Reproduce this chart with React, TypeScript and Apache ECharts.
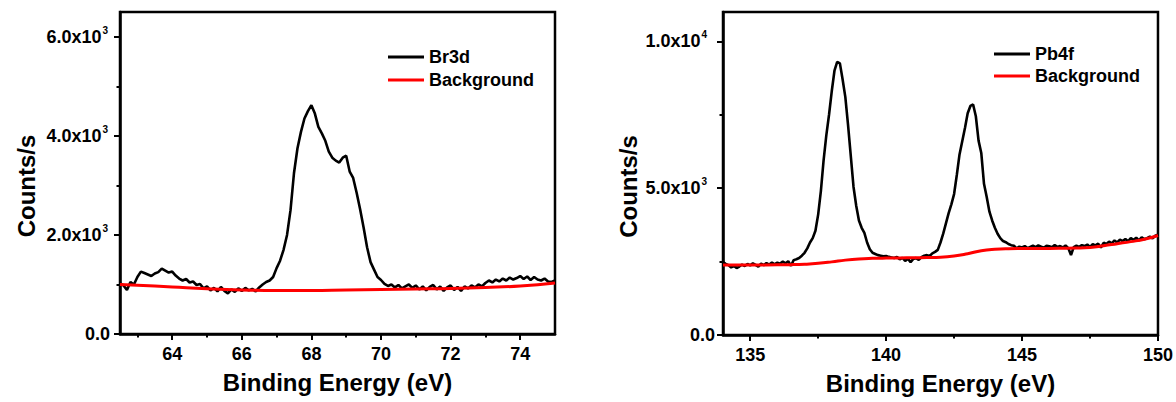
import React, { useEffect, useRef } from "react";
import * as echarts from "echarts";

// ---------- Data ----------
// Br 3d spectrum: measured every 0.1 eV from 62.5 eV
const BR_START = 62.5;
const BR_STEP = 0.1;
const brCounts = [
  1020, 980, 890, 1050, 1000,
  1150, 1260, 1230, 1200, 1170, 1220, 1250, 1320, 1280, 1240,
  1260, 1180, 1120, 1080, 1110, 1040, 1060, 990, 1010, 920,
  960, 880, 930, 860, 950, 870, 820, 900, 850, 920,
  870, 930, 880, 910, 860, 940, 1000, 1050, 1080, 1150,
  1330, 1480, 1700, 2000, 2500, 3250, 3750, 4080, 4350, 4500,
  4620, 4450, 4180, 4050, 3900, 3680, 3560, 3500, 3460, 3560,
  3600, 3280, 3150, 2850, 2520, 2150, 1750, 1450, 1300, 1150,
  1090, 1010, 970, 1000, 940, 990, 920, 960, 1000, 930,
  980, 900, 960, 880, 950, 990, 900, 960, 870, 940,
  980, 890, 950, 870, 960, 920, 980, 940, 1000, 960,
  1030, 1080, 1040, 1100, 1060, 1120, 1080, 1140, 1100, 1130,
  1170, 1110, 1160, 1090, 1150, 1100, 1080, 1120, 1060, 1050,
  1080,
];
const brBgEnergy = [62.5, 63, 64, 65, 66, 67, 68, 69, 70, 71, 72, 73, 74, 75];
const brBgCounts = [1000, 985, 950, 915, 890, 878, 880, 890, 900, 910, 920, 940, 970, 1030];

// Pb 4f spectrum: measured every 0.1 eV from 134 eV
const PB_START = 134;
const PB_STEP = 0.1;
const pbCounts = [
  2480, 2420, 2380, 2300, 2350, 2280, 2330, 2400, 2350, 2420,
  2370, 2440, 2390, 2330, 2430, 2380, 2450, 2400, 2470, 2410,
  2460, 2430, 2500, 2440, 2510, 2360, 2550, 2580, 2620, 2700,
  2800, 2950, 3150, 3300, 3550, 4100, 4900, 5950, 6800, 7500,
  8300, 9000, 9300, 9250, 8700, 8100, 7150, 6100, 5050, 4400,
  3900, 3650, 3480, 3150, 2920, 2800, 2760, 2720, 2700, 2680,
  2690, 2660, 2640, 2620, 2660, 2580, 2630, 2520, 2600, 2480,
  2590, 2620, 2560, 2650, 2700, 2720, 2690, 2780, 2830, 2900,
  3150, 3450, 3800, 4150, 4450, 4800, 5450, 6150, 6600, 7050,
  7550, 7800, 7850, 7450, 6620, 6200, 5150, 4700, 4200, 3900,
  3650, 3450, 3300, 3200, 3160, 3100, 3060, 3040, 2950, 3010,
  2980, 3030, 2960, 3000, 3040, 2990, 3050, 3010, 2970, 3040,
  3020, 2990, 3060, 3000, 3030, 2980, 3050, 2960, 2720, 2990,
  3040, 3000, 3060, 3030, 3080, 3000, 3090, 3050, 3110, 2980,
  3140, 3100, 3180, 3120, 3220, 3150, 3250, 3200, 3270, 3190,
  3300, 3240, 3310, 3220, 3330, 3260, 3300, 3350, 3290, 3380,
  3420,
];
const pbBgEnergy = [134, 135, 136, 136.5, 137, 137.5, 138, 138.5, 139, 139.5, 140, 140.5, 141, 141.5, 142, 142.5, 143, 143.5, 144, 144.5, 145, 146, 147, 147.5, 148, 148.5, 149, 149.5, 150];
const pbBgCounts = [2380, 2380, 2390, 2395, 2410, 2440, 2490, 2550, 2590, 2610, 2620, 2625, 2630, 2640, 2650, 2690, 2770, 2870, 2920, 2940, 2945, 2950, 2960, 2980, 3040, 3110, 3180, 3260, 3390];

// Axis ticks
const brXMajor = [64, 66, 68, 70, 72, 74];
const brXMinor = [63, 65, 67, 69, 71, 73];
const brYMajor = [0, 2000, 4000, 6000];
const brYMinor = [1000, 3000, 5000];
const pbXMajor = [135, 140, 145, 150];
const pbXMinor = [137.5, 142.5, 147.5];
const pbYMajor = [0, 5000, 10000];
const pbYMinor = [2500, 7500];

const FONT = "'Liberation Sans', Arial, sans-serif";

function toPairs(start: number, step: number, vals: number[]) {
  return vals.map((v, i) => [+(start + i * step).toFixed(2), v]);
}
function zipPairs(xs: number[], ys: number[]) {
  return xs.map((x, i) => [x, ys[i]]);
}
function sciLabel(v: number) {
  if (v === 0) return "{m|0.0}";
  const e = Math.floor(Math.log10(v));
  const m = (v / Math.pow(10, e)).toFixed(1);
  return `{m|${m}x10}{s|${e}}`;
}

function makeRich(padRight: number) {
  return {
    m: { fontSize: 18, fontWeight: "bold", fontFamily: FONT, color: "#000" },
    s: { fontSize: 10, fontWeight: "bold", fontFamily: FONT, color: "#000", padding: [0, padRight, 13, 1] },
  };
}

const axisLineStyle = { color: "#000", width: 2.5 };

function xAxes(gridIndex: number, min: number, max: number, major: number[], minor: number[]) {
  return [
    {
      gridIndex, type: "value", min, max, position: "bottom",
      axisLine: { show: true, onZero: false, lineStyle: axisLineStyle },
      axisTick: { show: true, customValues: major, length: 6, lineStyle: { color: "#000", width: 2 } },
      axisLabel: { show: true, customValues: major, margin: 11, fontSize: 18, fontWeight: "bold", fontFamily: FONT, color: "#000" },
      splitLine: { show: false },
      name: "Binding Energy (eV)", nameLocation: "middle", nameGap: 36,
      nameTextStyle: { fontSize: 24, fontWeight: "bold", fontFamily: FONT, color: "#000" },
    },
    {
      gridIndex, type: "value", min, max, position: "bottom",
      axisLine: { show: false, onZero: false },
      axisTick: { show: true, customValues: minor, length: 3.5, lineStyle: { color: "#000", width: 2 } },
      axisLabel: { show: false },
      splitLine: { show: false },
    },
  ];
}

function yAxes(gridIndex: number, min: number, max: number, major: number[], minor: number[], margin: number, padRight: number, nameGap: number) {
  return [
    {
      gridIndex, type: "value", min, max, position: "left",
      axisLine: { show: true, onZero: false, lineStyle: axisLineStyle },
      axisTick: { show: true, customValues: major, length: 6, lineStyle: { color: "#000", width: 2 } },
      axisLabel: { show: true, customValues: major, margin, formatter: sciLabel, rich: makeRich(padRight) },
      splitLine: { show: false },
      name: "Counts/s", nameLocation: "middle", nameGap, nameRotate: 90,
      nameTextStyle: { fontSize: 24, fontWeight: "bold", fontFamily: FONT, color: "#000", padding: [0, 26, 0, 0] },
    },
    {
      gridIndex, type: "value", min, max, position: "left",
      axisLine: { show: false, onZero: false },
      axisTick: { show: true, customValues: minor, length: 3.5, lineStyle: { color: "#000", width: 2 } },
      axisLabel: { show: false },
      splitLine: { show: false },
    },
  ];
}

export default function App() {
  const ref = useRef<HTMLDivElement>(null);
  useEffect(() => {
    if (!ref.current) return;
    const chart = echarts.init(ref.current, null, { renderer: "svg" });
    const gridStyle = { show: true, borderColor: "#000", borderWidth: 2.5, backgroundColor: "transparent" };
    const legendText = { fontSize: 18, fontWeight: "bold", fontFamily: FONT, color: "#000" };
    chart.setOption({
      animation: false,
      backgroundColor: "#fff",
      grid: [
        { left: 120, top: 12, width: 435, height: 322, ...gridStyle },
        { left: 723, top: 12, width: 435, height: 323, ...gridStyle },
      ],
      xAxis: [
        ...xAxes(0, 62.5, 75, brXMajor, brXMinor),
        ...xAxes(1, 134, 150, pbXMajor, pbXMinor),
      ],
      yAxis: [
        ...yAxes(0, 0, 6500, brYMajor, brYMinor, 10, 2, 82),
        ...yAxes(1, 0, 11000, pbYMajor, pbYMinor, 8, 8, 83),
      ],
      legend: [
        {
          data: ["Br3d", "Background"], orient: "vertical", left: 383, top: 43,
          itemWidth: 36, itemHeight: 3, itemGap: 5, icon: "rect", textStyle: legendText,
        },
        {
          data: ["Pb4f", "Background"], orient: "vertical", left: 989, top: 40,
          itemWidth: 36, itemHeight: 3, itemGap: 4, icon: "rect", textStyle: legendText,
        },
      ],
      series: [
        {
          name: "Br3d", type: "line", xAxisIndex: 0, yAxisIndex: 0,
          data: toPairs(BR_START, BR_STEP, brCounts), symbol: "none", showSymbol: false,
          lineStyle: { color: "#000", width: 2.6 }, itemStyle: { color: "#000" },
        },
        {
          name: "Background", type: "line", xAxisIndex: 0, yAxisIndex: 0, smooth: true,
          data: zipPairs(brBgEnergy, brBgCounts), symbol: "none", showSymbol: false,
          lineStyle: { color: "#ff0000", width: 3 }, itemStyle: { color: "#ff0000" },
        },
        {
          name: "Pb4f", type: "line", xAxisIndex: 2, yAxisIndex: 2,
          data: toPairs(PB_START, PB_STEP, pbCounts), symbol: "none", showSymbol: false,
          lineStyle: { color: "#000", width: 2.6 }, itemStyle: { color: "#000" },
        },
        {
          name: "Background", type: "line", xAxisIndex: 2, yAxisIndex: 2, smooth: true,
          data: zipPairs(pbBgEnergy, pbBgCounts), symbol: "none", showSymbol: false,
          lineStyle: { color: "#ff0000", width: 3 }, itemStyle: { color: "#ff0000" },
        },
      ],
    });
    return () => chart.dispose();
  }, []);
  return (
    <div
      ref={ref}
      style={{ position: "absolute", left: 0, top: 0, width: 1176, height: 402, background: "#fff" }}
    />
  );
}
